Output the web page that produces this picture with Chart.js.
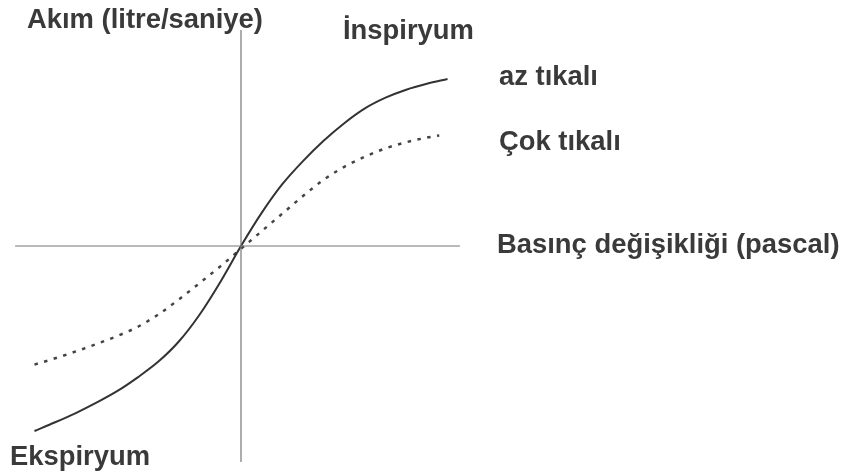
<!DOCTYPE html>
<html>
<head>
<meta charset="utf-8">
<script src="https://cdn.jsdelivr.net/npm/chart.js@4.4.0/dist/chart.umd.min.js"></script>
<style>
  html, body { margin: 0; padding: 0; background: #fff; }
  #wrap { width: 843px; height: 475px; position: relative; }
</style>
</head>
<body>
<div id="wrap"><canvas id="c"></canvas></div>
<script>
// basınç (x) ve akım (y) - keyfi birimler, görselden okundu
const azX = [-10, -9, -8, -7, -6, -5, -4, -3, -2, -1, 0, 1, 2, 3, 4, 5, 6, 7, 8, 9, 10];
const azY = [-10.0, -9.53, -9.03, -8.47, -7.85, -7.10, -6.25, -5.15, -3.70, -1.94, 0,
             1.79, 3.34, 4.59, 5.69, 6.64, 7.44, 8.02, 8.45, 8.77, 9.03];

const cokX = [-10, -9, -8, -7, -6, -5, -4, -3, -2, -1, 0, 1, 2, 3, 4, 5, 6, 7, 8, 9, 9.6];
const cokY = [-6.41, -6.07, -5.70, -5.30, -4.87, -4.37, -3.70, -2.88, -2.00, -1.10, -0.15,
              0.80, 1.75, 2.70, 3.58, 4.28, 4.83, 5.28, 5.61, 5.86, 5.98];

// eksen çizgileri
const yatayEksenX = [-10.94, 10.6];
const dikeyEksenY = [11.68, -11.68];

const etiketler = ['Akım (litre/saniye)', 'İnspiryum', 'az tıkalı', 'Çok tıkalı',
                   'Basınç değişikliği (pascal)', 'Ekspiryum'];

const toPts = (xs, ys) => xs.map((x, i) => ({ x: x, y: ys[i] }));

// yazılar eksenlerin dışında, sabit konumlarda
const etiketPlugin = {
    id: 'etiketler',
    afterDraw(chart) {
        const ctx = chart.ctx;
        const konum = [[27, 28], [343, 39], [499, 85], [499, 150], [497, 253], [10, 465]];
        ctx.save();
        ctx.fillStyle = '#3a3a3a';
        ctx.font = 'bold 27.4px "Liberation Sans", Arial, sans-serif';
        ctx.textBaseline = 'alphabetic';
        etiketler.forEach((t, i) => ctx.fillText(t, konum[i][0], konum[i][1]));
        ctx.restore();
    }
};

new Chart(document.getElementById('c'), {
    type: 'scatter',
    data: {
        datasets: [
            {
                label: 'yatay',
                data: toPts(yatayEksenX, [0, 0]),
                showLine: true, borderColor: '#777', borderWidth: 1.2, pointRadius: 0
            },
            {
                label: 'dikey',
                data: toPts([0, 0], dikeyEksenY),
                showLine: true, borderColor: '#777', borderWidth: 1.2, pointRadius: 0
            },
            {
                label: 'az tıkalı',
                data: toPts(azX, azY),
                showLine: true, borderColor: '#333', borderWidth: 2, pointRadius: 0,
                cubicInterpolationMode: 'monotone'
            },
            {
                label: 'Çok tıkalı',
                data: toPts(cokX, cokY),
                showLine: true, borderColor: '#444', borderWidth: 2.5, pointRadius: 0,
                borderDash: [3.5, 6.5], cubicInterpolationMode: 'monotone'
            }
        ]
    },
    options: {
        responsive: true,
        maintainAspectRatio: false,
        animation: false,
        layout: { padding: 0 },
        plugins: { legend: { display: false }, tooltip: { enabled: false } },
        scales: {
            x: { type: 'linear', display: false, min: -11.67, max: 29.15 },
            y: { type: 'linear', display: false, min: -12.38, max: 13.3 }
        }
    },
    plugins: [etiketPlugin]
});
</script>
</body>
</html>
